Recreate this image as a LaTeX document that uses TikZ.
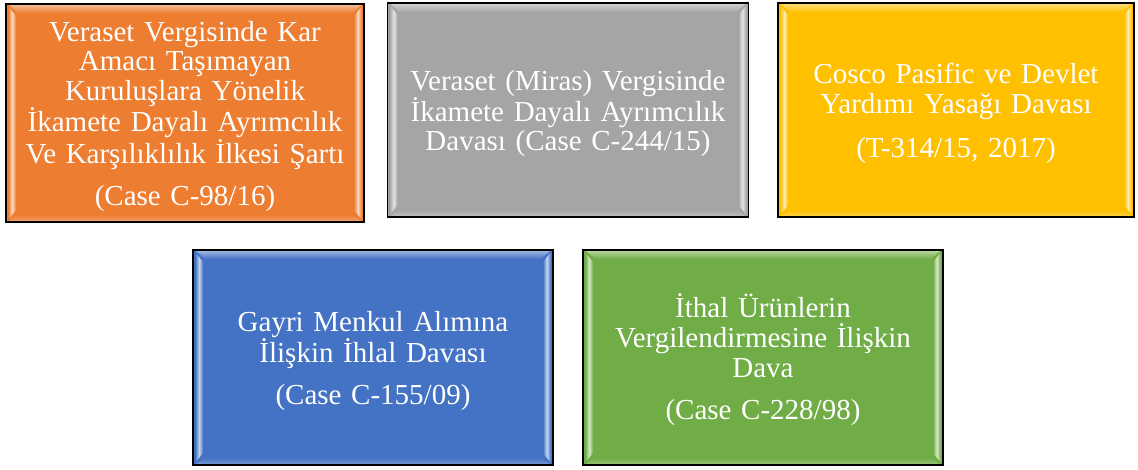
\documentclass[tikz,border=0pt]{standalone}
\usepackage{fontspec}
\setmainfont{Liberation Serif}
\usetikzlibrary{calc}
\definecolor{cOr}{HTML}{ED7D31}
\definecolor{cGr}{HTML}{A5A5A5}
\definecolor{cYe}{HTML}{FFC000}
\definecolor{cBl}{HTML}{4472C4}
\definecolor{cGn}{HTML}{70AD47}
\tikzset{
  casebox/.style={draw=black, line width=1.6pt, inner sep=0pt, align=center,
    text=white, text width=350pt, font=\fontsize{29}{29.8}\selectfont},
  casetext/.style={casebox, draw=none, yshift=-3.5pt},
}
\newcommand\bevelit[2]{%
  \shade[left color=#2, right color=#2, middle color=#2!30!white]
    ($(#1.north west)+(3,3)$) -- ($(#1.north west)+(11,13)$) --
    ($(#1.south west)+(11,-13)$) -- ($(#1.south west)+(3,-3)$) -- cycle;
  \shade[left color=#2, right color=#2, middle color=#2!30!white]
    ($(#1.north east)+(-3,3)$) -- ($(#1.north east)+(-11,13)$) --
    ($(#1.south east)+(-11,-13)$) -- ($(#1.south east)+(-3,-3)$) -- cycle;
  \shade[top color=#2!55!white, bottom color=#2]
    ($(#1.north west)+(4,2)$) -- ($(#1.north east)+(-4,2)$) --
    ($(#1.north east)+(-13,10)$) -- ($(#1.north west)+(13,10)$) -- cycle;
  \shade[top color=#2, bottom color=#2!75!white]
    ($(#1.south west)+(13,-8)$) -- ($(#1.south east)+(-13,-8)$) --
    ($(#1.south east)+(-4,-2)$) -- ($(#1.south west)+(4,-2)$) -- cycle;
}
\begin{document}
\begin{tikzpicture}[x=1pt,y=-1pt]
\useasboundingbox (0,0) rectangle (1138,469);
% boxes (fill first, text drawn afterwards)
\node[casebox, fill=cOr, minimum width=358pt, minimum height=218pt] (orange) at (185,113) {};
\node[casebox, fill=cGr, minimum width=361pt, minimum height=214pt] (gray) at (568,110) {};
\node[casebox, fill=cYe, minimum width=356pt, minimum height=214pt] (yellow) at (956,110) {};
\node[casebox, fill=cBl, minimum width=360pt, minimum height=215pt] (blue) at (373,357.5) {};
\node[casebox, fill=cGn, minimum width=360pt, minimum height=215pt] (green) at (763,357.5) {};
\bevelit{orange}{cOr}
\bevelit{gray}{cGr}
\bevelit{yellow}{cYe}
\bevelit{blue}{cBl}
\bevelit{green}{cGn}
% texts
\node[casetext] (orangeT) at (orange) {Veraset Vergisinde Kar\\Amacı Taşımayan\\Kuruluşlara Yönelik\\İkamete Dayalı Ayrımcılık\\Ve Karşılıklılık İlkesi Şartı\\[13pt](Case C-98/16)};
\node[casetext, font=\fontsize{29}{28.3}\selectfont] (grayT) at (gray) {Veraset (Miras) Vergisinde\\İkamete Dayalı Ayrımcılık\\Davası (Case C-244/15)};
\node[casetext] (yellowT) at (yellow) {Cosco Pasific ve Devlet\\Yardımı Yasağı Davası\\[14pt](T-314/15, 2017)};
\node[casetext] (blueT) at (blue) {Gayri Menkul Alımına\\İlişkin İhlal Davası\\[12pt](Case C-155/09)};
\node[casetext, yshift=1.5pt] (greenT) at (green) {İthal Ürünlerin\\Vergilendirmesine İlişkin\\Dava\\[12pt](Case C-228/98)};
\end{tikzpicture}
\end{document}
